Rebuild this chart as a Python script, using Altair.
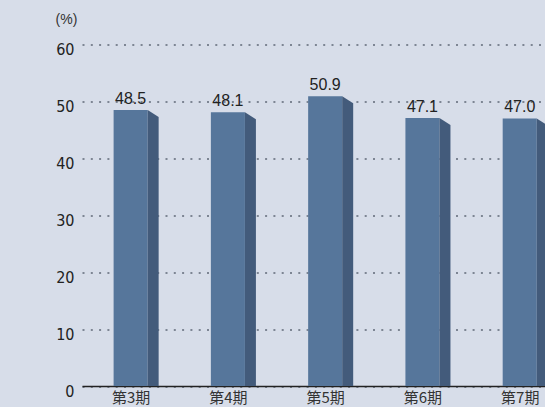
import json
import altair as alt
import pandas as pd

categories = ["第3期", "第4期", "第5期", "第6期", "第7期"]
values = [48.5, 48.1, 50.9, 47.1, 47.0]
y_ticks = [0, 10, 20, 30, 40, 50, 60]

HALF = 0.175   # half width of the front face (x units)
SIDE = 0.113   # depth of the side face (x units)
DROP = 1.23    # slant of the side top (y units)

idx = list(range(len(categories)))
front = pd.DataFrame({"cat": categories, "idx": idx, "v": values})
front["x1"] = front["idx"] - HALF
front["x2"] = front["idx"] + HALF

side_rows = []
for i, v in zip(idx, values):
    side_rows.append({"idx": i, "sx": i + HALF, "top": v})
    side_rows.append({"idx": i, "sx": i + HALF + SIDE, "top": v - DROP})
side = pd.DataFrame(side_rows)

xscale = alt.Scale(domain=[-0.5, 4.26], nice=False, zero=False)
yscale = alt.Scale(domain=[0, 60], nice=False)

label_expr = json.dumps(categories, ensure_ascii=False) + "[datum.value]"

x_axis = alt.Axis(
    values=idx, labelExpr=label_expr, title=None, grid=False, ticks=False,
    domain=True, domainColor="#222222", domainWidth=1.5,
    labelFont="Noto Sans CJK JP", labelFontSize=15, labelColor="#333333",
    labelPadding=4, labelBaseline="top", labelAngle=0,
)
y_axis = alt.Axis(
    values=y_ticks, grid=True, gridColor="#7d8593", gridDash=[2, 6.3], gridWidth=2,
    domain=False, ticks=False,
    labelFont="DejaVu Sans Condensed, Liberation Sans, sans-serif", labelFontSize=16,
    labelColor="#222222",
    labelPadding=8, labelBaseline="middle", labelOffset=5,
    title="(%)", titleAngle=0, titleX=-16, titleY=-25, titleAlign="center",
    titleBaseline="middle", titleFont="Liberation Sans", titleFontSize=14,
    titleFontWeight="normal", titleColor="#333333",
)

bars = alt.Chart(front).mark_rect(color="#56769b", clip=True).encode(
    x=alt.X("x1:Q", scale=xscale, axis=x_axis),
    x2="x2:Q",
    y=alt.Y("v:Q", scale=yscale, axis=y_axis),
    y2=alt.datum(0),
)

sides = alt.Chart(side).mark_area(color="#435b7b", clip=True).encode(
    x=alt.X("sx:Q", scale=xscale),
    y=alt.Y("top:Q", scale=yscale),
    y2=alt.datum(0),
    detail="idx:N",
)

labels = alt.Chart(front).mark_text(
    dy=-6, baseline="alphabetic", align="center", fontSize=16,
    font="Liberation Sans", color="#222222", clip=True,
).encode(
    x=alt.X("idx:Q", scale=xscale),
    y=alt.Y("v:Q", scale=yscale),
    text=alt.Text("v:Q", format=".1f"),
)

chart = alt.layer(bars, sides, labels).properties(
    width=463,
    height=341.5,
    autosize=alt.AutoSizeParams(type="none"),
    padding={"left": 82, "top": 44.5, "right": 0, "bottom": 21},
    background="#d7dde9",
).configure_view(stroke=None)

chart.save("out.html", embed_options={"renderer": "svg", "actions": False})
